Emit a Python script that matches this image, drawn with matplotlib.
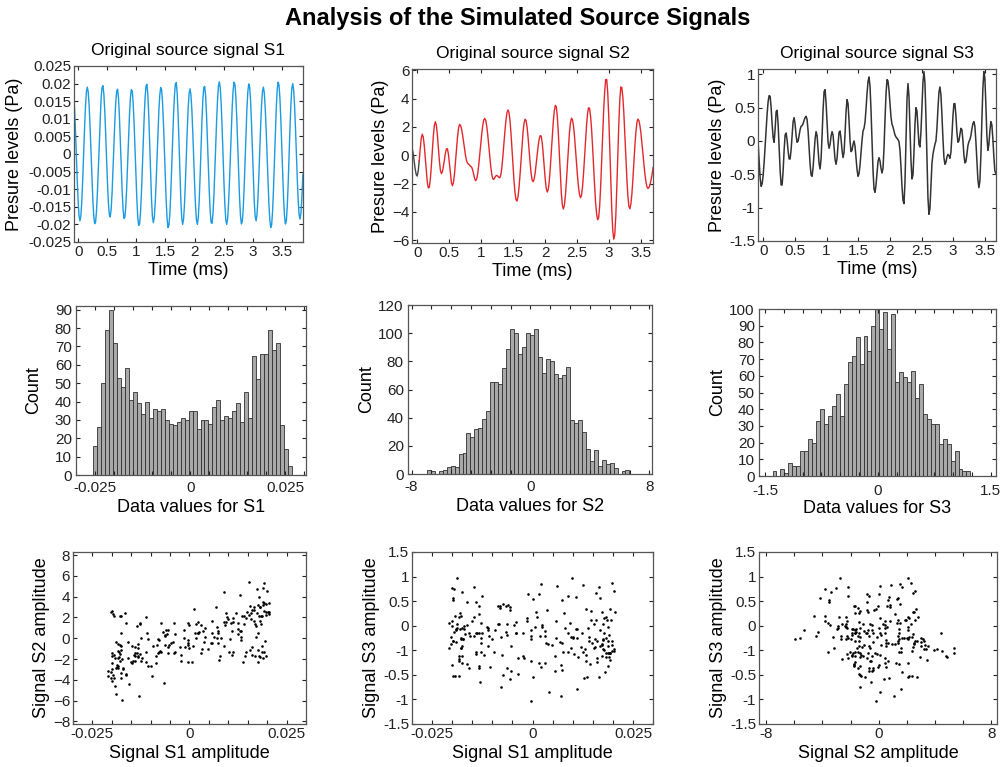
import matplotlib
matplotlib.use("Agg")
import matplotlib.pyplot as plt
import numpy as np

plt.rcParams['font.family'] = ['Liberation Sans', 'DejaVu Sans']

T0 = -0.0812
DT = 0.015781

# S1 in mPa
s1_mpa = [
    17.6, 13.4, 7.3, 0.0, -7.3, -13.4, -17.6, -19.0, -17.6, -13.4, -7.3, 0.0, 7.3, 13.4, 17.6, 19.0,
    17.6, 13.7, 7.8, 0.8, -6.4, -12.8, -17.5, -19.8, -19.4, -16.3, -11.0, -4.2, 3.2, 10.1, 15.6, 18.8,
    19.4, 17.2, 12.4, 5.9, -1.4, -8.4, -13.9, -17.3, -17.9, -15.7, -11.1, -4.7, 2.3, 9.2, 14.6, 17.8,
    18.4, 15.9, 10.8, 3.9, -3.7, -10.6, -15.8, -18.3, -17.9, -14.7, -9.3, -2.4, 4.8, 11.2, 16.0, 18.3,
    17.9, 14.5, 8.8, 1.6, -6.0, -12.8, -17.9, -20.3, -19.9, -16.7, -11.2, -4.1, 3.4, 10.4, 16.0, 19.3,
    19.8, 16.9, 11.0, 3.0, -5.4, -12.8, -17.8, -19.5, -18.1, -14.1, -8.2, -1.3, 5.9, 12.1, 16.7, 18.9,
    18.3, 14.8, 8.9, 1.5, -6.3, -13.3, -18.4, -20.9, -20.3, -17.0, -11.3, -4.1, 3.7, 10.9, 16.5, 19.8,
    20.3, 17.3, 11.1, 3.0, -5.7, -13.2, -18.3, -20.0, -18.4, -14.1, -7.7, -0.3, 7.0, 13.2, 17.2, 18.5,
    16.8, 12.5, 6.2, -1.2, -8.5, -14.7, -18.7, -20.0, -18.1, -13.3, -6.3, 1.8, 9.5, 15.5, 18.9, 19.2,
    16.5, 11.1, 4.1, -3.6, -10.8, -16.4, -19.5, -19.7, -17.1, -12.1, -5.3, 2.2, 9.5, 15.4, 19.3, 20.5,
    18.7, 14.1, 7.4, -0.4, -8.1, -14.5, -18.7, -20.0, -18.4, -14.1, -7.9, -0.5, 7.0, 13.5, 18.2, 20.4,
    19.7, 16.0, 10.0, 2.4, -5.5, -12.5, -17.5, -19.9, -19.2, -15.6, -9.6, -2.1, 5.6, 12.6, 17.6, 19.9,
    19.1, 15.3, 8.9, 1.2, -6.7, -13.3, -17.7, -19.0, -17.3, -12.9, -6.6, 0.7, 8.0, 14.0, 17.8, 19.0,
    17.3, 13.0, 6.9, -0.4, -7.8, -14.2, -18.8, -20.9, -20.1, -16.3, -10.0, -2.3, 5.7, 12.9, 18.1, 20.4,
    19.6, 15.9, 9.8, 2.2, -5.6, -12.6, -17.6, -19.9, -19.1, -15.0, -8.5, -0.5, 7.5, 14.3, 18.7, 20.0,
    18.1, 13.7, 7.2, -0.2, -7.5, -13.5, -17.4, -18.5, -16.6, -12.2, -5.8,
]

# S2 in Pa
s2_pa = [
    0.50, 0.12, -0.43, -0.97, -1.36, -1.47, -1.11, -0.39, 0.47, 1.19,
    1.49, 1.30, 0.69, -0.19, -1.12, -1.89, -2.31, -2.26, -1.71, -0.79,
    0.32, 1.36, 2.10, 2.37, 2.13, 1.45, 0.53, -0.38, -1.06, -1.30,
    -1.16, -0.79, -0.29, 0.16, 0.45, 0.46, 0.06, -0.64, -1.41, -1.97,
    -2.15, -1.90, -1.31, -0.46, 0.47, 1.29, 1.92, 2.18, 2.11, 1.85,
    1.45, 0.94, 0.42, -0.05, -0.40, -0.57, -0.63, -0.71, -0.78, -0.84,
    -1.03, -1.36, -1.66, -1.80, -1.68, -1.31, -0.72, 0.01, 0.78, 1.49,
    2.10, 2.48, 2.61, 2.46, 2.05, 1.42, 0.67, -0.11, -0.82, -1.36,
    -1.67, -1.70, -1.58, -1.46, -1.42, -1.48, -1.56, -1.59, -1.37, -0.85,
    -0.08, 0.81, 1.69, 2.46, 2.99, 3.20, 3.04, 2.49, 1.59, 0.48,
    -0.70, -1.77, -2.63, -3.14, -3.24, -2.94, -2.29, -1.39, -0.35, 0.73,
    1.63, 2.27, 2.55, 2.45, 1.99, 1.25, 0.37, -0.52, -1.27, -1.74,
    -1.87, -1.69, -1.26, -0.65, 0.02, 0.66, 1.14, 1.39, 1.35, 0.90,
    0.11, -0.82, -1.69, -2.34, -2.60, -2.42, -1.83, -0.91, 0.20, 1.37,
    2.38, 3.14, 3.52, 3.43, 2.74, 1.57, 0.10, -1.37, -2.70, -3.54,
    -3.80, -3.54, -2.86, -1.87, -0.68, 0.51, 1.57, 2.28, 2.62, 2.52,
    2.09, 1.39, 0.49, -0.50, -1.45, -2.21, -2.77, -3.00, -2.84, -2.23,
    -1.31, -0.16, 1.06, 2.11, 2.96, 3.36, 3.31, 2.75, 1.83, 0.59,
    -0.80, -2.17, -3.36, -4.16, -4.56, -4.43, -3.60, -2.20, -0.45, 1.46,
    3.21, 4.52, 5.35, 5.36, 4.44, 2.80, 0.58, -1.75, -3.79, -5.32,
    -5.93, -5.60, -4.32, -2.32, 0.01, 2.18, 3.92, 4.83, 4.78, 4.11,
    2.98, 1.46, -0.14, -1.66, -2.88, -3.62, -3.78, -3.44, -2.71, -1.66,
    -0.46, 0.72, 1.67, 2.34, 2.56, 2.44, 2.07, 1.53, 0.82, 0.06,
    -0.71, -1.39, -1.91, -2.25, -2.35, -2.27, -2.06, -1.75, -1.35, -0.87,
]

# S3 in Pa
s3_pa = [
    -0.04, -0.30, -0.56, -0.68, -0.64, -0.52, -0.32, -0.07, 0.18, 0.41,
    0.59, 0.68, 0.67, 0.50, 0.25, 0.05, -0.02, 0.18, 0.44, 0.46,
    0.25, -0.09, -0.44, -0.66, -0.66, -0.45, -0.14, 0.09, 0.12, 0.01,
    -0.15, -0.27, -0.27, -0.13, 0.09, 0.29, 0.35, 0.25, 0.08, -0.02,
    0.00, 0.08, 0.17, 0.22, 0.23, 0.26, 0.31, 0.35, 0.37, 0.32,
    0.15, -0.10, -0.35, -0.51, -0.53, -0.40, -0.18, 0.03, 0.14, 0.08,
    -0.13, -0.34, -0.42, -0.27, 0.08, 0.47, 0.74, 0.77, 0.57, 0.26,
    -0.02, -0.11, -0.05, 0.07, 0.14, 0.09, -0.09, -0.28, -0.35, -0.26,
    -0.05, 0.13, 0.15, 0.03, -0.14, -0.25, -0.17, 0.11, 0.44, 0.62,
    0.56, 0.30, 0.00, -0.16, -0.14, -0.05, 0.00, -0.08, -0.25, -0.43,
    -0.53, -0.49, -0.36, -0.18, 0.01, 0.15, 0.19, 0.28, 0.48, 0.71,
    0.89, 0.96, 0.82, 0.46, 0.00, -0.44, -0.72, -0.77, -0.66, -0.48,
    -0.31, -0.25, -0.30, -0.41, -0.48, -0.41, -0.11, 0.32, 0.70, 0.92,
    0.90, 0.76, 0.56, 0.36, 0.25, 0.21, 0.15, 0.09, 0.06, 0.04,
    0.02, -0.01, -0.14, -0.39, -0.68, -0.89, -0.94, -0.62, 0.03, 0.62,
    0.86, 0.67, 0.21, -0.29, -0.57, -0.51, -0.17, 0.25, 0.50, 0.45,
    0.19, -0.05, -0.09, 0.14, 0.52, 0.88, 1.04, 0.87, 0.36, -0.28,
    -0.85, -1.10, -1.01, -0.68, -0.34, -0.20, -0.12, -0.05, 0.00, 0.19,
    0.48, 0.73, 0.81, 0.69, 0.39, 0.04, -0.25, -0.35, -0.32, -0.24,
    -0.20, -0.22, -0.26, -0.17, 0.08, 0.37, 0.56, 0.56, 0.38, 0.13,
    -0.02, 0.00, 0.10, 0.19, 0.17, 0.01, -0.21, -0.33, -0.31, -0.20,
    -0.07, -0.01, 0.02, 0.08, 0.18, 0.26, 0.29, 0.22, -0.01, -0.31,
    -0.58, -0.70, -0.60, -0.22, 0.32, 0.79, 1.04, 0.94, 0.54, 0.08,
    -0.14, -0.05, 0.15, 0.29, 0.24, 0.03, -0.24, -0.45, -0.49,
]

# --- histogram counts over the given bin ranges
h1_counts = [16, 26, 50, 79, 90, 72, 53, 48, 58, 41, 45, 39, 33, 40, 31, 36, 35, 36, 30, 28,
             27, 29, 31, 30, 35, 35, 25, 30, 30, 28, 37, 41, 30, 32, 31, 35, 39, 29, 45, 31,
             65, 52, 66, 66, 79, 68, 72, 27, 14, 5]
h1_range = (-0.0256, 0.0268)
h2_counts = [3, 2, 0, 2, 3, 5, 6, 5, 14, 15, 29, 26, 32, 33, 39, 45, 65, 65, 64, 75,
             89, 103, 100, 85, 90, 100, 99, 103, 83, 72, 82, 80, 71, 68, 70, 76, 38, 36, 38, 30,
             18, 9, 17, 6, 10, 7, 8, 4, 0, 2, 3]
h2_range = (-6.98, 6.66)
h3_counts = [3, 0, 4, 2, 8, 6, 6, 15, 15, 22, 20, 33, 40, 31, 36, 42, 49, 36, 55, 68,
             72, 83, 67, 84, 75, 90, 100, 88, 98, 76, 97, 56, 62, 59, 56, 63, 47, 55, 37, 34,
             31, 31, 19, 22, 19, 9, 15, 4, 3, 3]
h3_range = (-1.40, 1.23)

time_ticks = ['0', '0.5', '1', '1.5', '2', '2.5', '3', '3.5']
s1_yticks = ['-0.025', '-0.02', '-0.015', '-0.01', '-0.005', '0', '0.005', '0.01', '0.015', '0.02', '0.025']
s3_scatter_yticks = ['1.5', '1', '0.5', '0', '-1', '-0.5', '-1', '-1.5']
s1_amp_labels = {-0.025: '-0.025', 0.0: '0', 0.025: '0.025'}
s2_amp_labels = {-8: '-8', 0: '0', 8: '8'}
s3_amp_labels = {-1.5: '-1.5', 0: '0', 1.5: '1.5'}

s1 = np.array(s1_mpa) / 1000.0
s2 = np.array(s2_pa)
s3 = np.array(s3_pa)
t1 = T0 + DT * np.arange(len(s1))
t2 = T0 + DT * np.arange(len(s2))
t3 = T0 + DT * np.arange(len(s3))

BLUE = '#1b9be0'
RED = '#e3282d'
DARK = '#333333'
FRAME = '#555555'
TICK_FS = 11
LAB_FS = 13

fig = plt.figure(figsize=(10.05, 7.67), dpi=100)


def style(ax, xpad=2, ypad=2):
    for sp in ax.spines.values():
        sp.set_color(FRAME)
        sp.set_linewidth(0.9)
    ax.tick_params(direction='in', length=3, width=0.8, top=True, right=True,
                   labelsize=TICK_FS, colors='#222222')
    ax.tick_params(axis='x', pad=xpad)
    ax.tick_params(axis='y', pad=ypad)


def sparse_labels(ticks, keep):
    out = []
    for v in ticks:
        lab = ''
        for k, s in keep.items():
            if abs(v - k) < 1e-9:
                lab = s
        out.append(lab)
    return out


# ---------------- row 1: signals
ax = fig.add_axes([0.0736, 0.6845, 0.2279, 0.2295])
ax.plot(t1, s1, color=BLUE, lw=1.0)
ax.set_xlim(-0.074, 3.867)
ax.set_ylim(-0.025, 0.025)
ax.set_xticks(np.arange(0, 3.6, 0.5), time_ticks)
ax.set_yticks(np.linspace(-0.025, 0.025, 11), s1_yticks)
ax.set_xlabel('Time (ms)', fontsize=LAB_FS, labelpad=2)
ax.set_ylabel('Presure levels (Pa)', fontsize=LAB_FS, labelpad=4)
ax.set_title('Original source signal S1', fontsize=12.5, pad=8)
style(ax)

ax = fig.add_axes([0.4100, 0.6832, 0.2398, 0.2269])
ax.plot(t2[:8], s2[:8], color='#444444', lw=1.0)
ax.plot(t2[7:], s2[7:], color=RED, lw=1.0)
ax.set_xlim(-0.083, 3.69)
ax.set_ylim(-6.2, 6.1)
ax.set_xticks(np.arange(0, 3.6, 0.5), time_ticks)
ax.set_yticks(np.arange(-6, 7, 2))
ax.set_xlabel('Time (ms)', fontsize=LAB_FS, labelpad=2)
ax.set_ylabel('Presure levels (Pa)', fontsize=LAB_FS, labelpad=2)
ax.set_title('Original source signal S2', fontsize=12.5, pad=8)
style(ax)

ax = fig.add_axes([0.7542, 0.6858, 0.2368, 0.2243])
ax.plot(t3, s3, color=DARK, lw=1.1)
ax.set_xlim(-0.084, 3.676)
ax.set_ylim(-1.5, 1.08)
ax.set_xticks(np.arange(0, 3.6, 0.5), time_ticks)
ax.set_yticks([-1.5, -1, -0.5, 0, 0.5, 1], ['-1.5', '-1', '-0.5', '0', '0.5', '1'])
ax.set_xlabel('Time (ms)', fontsize=LAB_FS, labelpad=2)
ax.set_ylabel('Presure levels (Pa)', fontsize=LAB_FS, labelpad=2)
ax.set_title('Original source signal S3', fontsize=12.5, pad=8)
style(ax)

# ---------------- row 2: histograms
hists = [
    ([0.0756, 0.3807, 0.2289, 0.2203], h1_counts, h1_range, (-0.029, 0.0304), 92,
     np.arange(-6, 7) * 0.005, s1_amp_labels, np.arange(0, 91, 10), 'Data values for S1', 9, 4),
    ([0.4060, 0.3820, 0.2428, 0.2203], h2_counts, h2_range, (-8.24, 8.18), 120,
     np.linspace(-8, 8, 13), s2_amp_labels, np.arange(0, 121, 20), 'Data values for S2', 2, 4),
    ([0.7552, 0.3794, 0.2358, 0.2177], h3_counts, h3_range, (-1.58, 1.57), 100,
     np.linspace(-1.5, 1.5, 13), s3_amp_labels, np.arange(0, 101, 10), 'Data values for S3', 2, 6),
]
for pos, counts, rng, xl, ytop, xt, keep, yt, xlab, ylpad, xpad in hists:
    ax = fig.add_axes(pos)
    edges = np.linspace(rng[0], rng[1], len(counts) + 1)
    ax.bar(edges[:-1], counts, width=np.diff(edges), align='edge',
           color='#a9a9a9', edgecolor='#303030', linewidth=0.6)
    ax.set_xlim(*xl)
    ax.set_ylim(0, ytop)
    ax.set_xticks(xt, sparse_labels(xt, keep))
    ax.set_yticks(yt)
    ax.set_xlabel(xlab, fontsize=LAB_FS, labelpad=7 - xpad)
    ax.set_ylabel('Count', fontsize=LAB_FS, labelpad=ylpad)
    style(ax, xpad=xpad, ypad=3)

# ---------------- row 3: scatter plots
n = min(len(s1), len(s2), len(s3))
s1_ticks = np.arange(-6, 7) * 0.005
s2_ticks = np.arange(-8, 9, 2)

ax = fig.add_axes([0.0726, 0.0561, 0.2318, 0.2243])
ax.scatter(s1[:n], s2[:n], s=3.5, c='black', linewidths=0)
ax.set_xlim(-0.03, 0.03)
ax.set_ylim(-8.25, 8.3)
ax.set_xticks(s1_ticks, sparse_labels(s1_ticks, s1_amp_labels))
ax.set_yticks(np.arange(-8, 9, 2))
ax.set_xlabel('Signal S1 amplitude', fontsize=LAB_FS, labelpad=3)
ax.set_ylabel('Signal S2 amplitude', fontsize=LAB_FS, labelpad=2)
style(ax)

ax = fig.add_axes([0.4100, 0.0561, 0.2398, 0.2243])
ax.scatter(s1[:n], s3[:n], s=3.5, c='black', linewidths=0)
ax.set_xlim(-0.03, 0.03)
ax.set_ylim(-1.5, 1.5)
ax.set_xticks(s1_ticks, sparse_labels(s1_ticks, s1_amp_labels))
ax.set_yticks(np.linspace(1.5, -1.5, 8), s3_scatter_yticks)
ax.set_xlabel('Signal S1 amplitude', fontsize=LAB_FS, labelpad=3)
ax.set_ylabel('Signal S3 amplitude', fontsize=LAB_FS, labelpad=2)
style(ax)

ax = fig.add_axes([0.7552, 0.0561, 0.2368, 0.2243])
ax.scatter(s2[:n], s3[:n], s=3.5, c='black', linewidths=0)
ax.set_xlim(-8.5, 8.4)
ax.set_ylim(-1.5, 1.5)
ax.set_xticks(s2_ticks, sparse_labels(s2_ticks, s2_amp_labels))
ax.set_yticks(np.linspace(1.5, -1.5, 8), s3_scatter_yticks)
ax.set_xlabel('Signal S2 amplitude', fontsize=LAB_FS, labelpad=3)
ax.set_ylabel('Signal S3 amplitude', fontsize=LAB_FS, labelpad=2)
style(ax)

fig.text(0.515, 0.976, 'Analysis of the Simulated Source Signals', ha='center', va='center',
         fontsize=17, fontweight='bold')

fig.savefig('out.png', dpi=100)
